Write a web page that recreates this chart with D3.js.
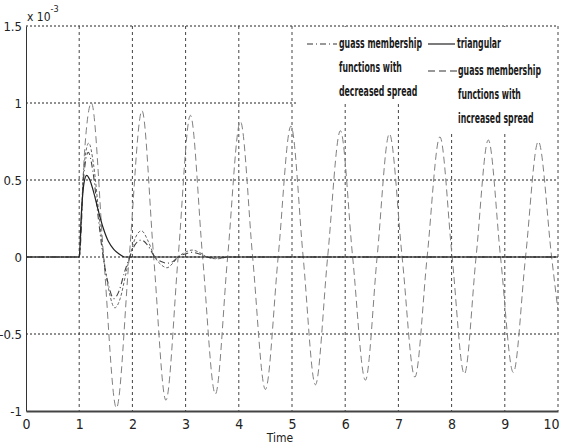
<!DOCTYPE html>
<html><head><meta charset="utf-8">
<script src="https://cdn.jsdelivr.net/npm/d3@7"></script>
<style>
html,body{margin:0;padding:0;background:#fff;}
svg{display:block;}
text{font-family:"DejaVu Sans",sans-serif;font-stretch:condensed;}
</style></head>
<body>
<svg id="chart" width="561" height="445"></svg>
<script>
// ---- data ----
const xTicks = [0,1,2,3,4,5,6,7,8,9,10];
const xTickLabels = ["0","1","2","3","4","5","6","7","8","9","10"];
const yTicks = [-1,-0.5,0,0.5,1,1.5];
const yTickLabels = ["-1","-0.5","0","0.5","1","1.5"];

// triangular (solid)
const triT = [0,1.0,1.04,1.09,1.14,1.2,1.28,1.36,1.45,1.55,1.65,1.75,1.85,10];
const triV = [0,0,0.28,0.48,0.53,0.5,0.41,0.3,0.19,0.1,0.05,0.02,0,0];

// gauss, decreased spread (dash-dot)
const decT = [0,1.0,1.08,1.17,1.26,1.36,1.45,1.55,1.65,1.75,1.85,1.95,2.05,2.17,2.3,2.42,2.54,2.65,2.76,2.86,2.99,3.12,3.26,3.4,3.6,3.8,10];
const decV = [0,0,0.5,0.68,0.55,0.25,0,-0.18,-0.27,-0.22,-0.1,0,0.08,0.11,0.07,0,-0.03,-0.04,-0.03,0,0.02,0.03,0.02,0,-0.008,0,0];

// unlabelled dotted companion curve
const dotT = [0,1.0,1.08,1.18,1.27,1.37,1.46,1.56,1.67,1.77,1.87,1.95,2.05,2.17,2.3,2.42,2.54,2.65,2.76,2.86,2.99,3.12,3.26,3.4,3.6,3.8,10];
const dotV = [0,0,0.55,0.74,0.6,0.28,0,-0.22,-0.33,-0.27,-0.12,0,0.12,0.17,0.1,0,-0.05,-0.07,-0.04,0,0.03,0.045,0.03,0,-0.012,0,0];

// gauss, increased spread (dashed)
const incT = [0,1.0,1.1,1.23,1.46,1.70,1.94,2.18,2.40,2.63,2.86,3.09,3.32,3.56,3.79,4.03,4.26,4.50,4.74,4.98,5.21,5.44,5.67,5.91,6.14,6.38,6.60,6.83,7.07,7.31,7.54,7.78,8.01,8.24,8.46,8.69,8.92,9.16,9.39,9.63,9.88,10];
const incV = [0,0,0.68,1.0,0,-0.98,0,0.95,0,-0.93,0,0.92,0,-0.89,0,0.88,0,-0.86,0,0.85,0,-0.83,0,0.82,0,-0.80,0,0.80,0,-0.78,0,0.78,0,-0.76,0,0.76,0,-0.75,0,0.75,0,-0.35];

// ---- chart ----
const svg = d3.select("#chart");
const x = d3.scaleLinear().domain([0,10]).range([26,558]);
const y = d3.scaleLinear().domain([-1,1.5]).range([411,26]);

// grid
svg.append("g").selectAll("line").data(yTicks.filter(d=>d>-1)).join("line")
  .attr("x1",x(0)).attr("x2",x(10)).attr("y1",d=>y(d)).attr("y2",d=>y(d))
  .attr("stroke","#222").attr("stroke-width",1).attr("stroke-dasharray","2,2");
svg.append("g").selectAll("line").data(xTicks.filter(d=>d>0)).join("line")
  .attr("x1",d=>x(d)).attr("x2",d=>x(d)).attr("y1",y(1.5)).attr("y2",y(-1))
  .attr("stroke","#444").attr("stroke-width",1).attr("stroke-dasharray","3,3");

const mk = (T,V)=>T.map((t,i)=>[t,V[i]]);
const line = d3.line().x(d=>x(d[0])).y(d=>y(d[1])).curve(d3.curveMonotoneX);

svg.append("path").datum(mk(incT,incV)).attr("d",line).attr("fill","none")
  .attr("stroke","#808080").attr("stroke-width",1).attr("stroke-dasharray","7,4");
svg.append("path").datum(mk(dotT,dotV)).attr("d",line).attr("fill","none")
  .attr("stroke","#666").attr("stroke-width",1).attr("stroke-dasharray","3,2");
svg.append("path").datum(mk(decT,decV)).attr("d",line).attr("fill","none")
  .attr("stroke","#444").attr("stroke-width",1.1).attr("stroke-dasharray","6,3,1,3");
svg.append("path").datum(mk(triT,triV)).attr("d",line).attr("fill","none")
  .attr("stroke","#222").attr("stroke-width",1.2);

// legend background
svg.append("rect").attr("x",298).attr("y",27).attr("width",258).attr("height",77).attr("fill","#fff");
svg.append("rect").attr("x",420).attr("y",104).attr("width",136).attr("height",27).attr("fill","#fff");

const lg = svg.append("g").attr("font-weight","bold").attr("font-size",14).attr("fill","#1a1a1a");
function txt(s,xx,yy){
  lg.append("text").attr("transform",`translate(${xx},${yy}) scale(0.62,1)`)
    .attr("dominant-baseline","central").text(s);
}
lg.append("line").attr("x1",307).attr("x2",337).attr("y1",44).attr("y2",44)
  .attr("stroke","#333").attr("stroke-width",1.2).attr("stroke-dasharray","6,3,1,3");
txt("guass membership",339,43);
txt("functions with",339,67);
txt("decreased spread",339,91);
lg.append("line").attr("x1",428).attr("x2",455).attr("y1",44).attr("y2",44)
  .attr("stroke","#222").attr("stroke-width",1.2);
txt("triangular",457,43);
lg.append("line").attr("x1",428).attr("x2",457).attr("y1",71).attr("y2",71)
  .attr("stroke","#333").attr("stroke-width",1.2).attr("stroke-dasharray","7,4");
txt("guass membership",458,70);
txt("functions with",458,94);
txt("increased spread",458,118);

// axes
const xAxis = d3.axisBottom(x).tickValues(xTicks).tickFormat((d,i)=>xTickLabels[i]).tickSize(0).tickPadding(8);
const gx = svg.append("g").attr("transform",`translate(0,${y(-1)})`).call(xAxis);
gx.select(".domain").attr("stroke","#444").attr("stroke-width",2);
gx.selectAll(".tick text").attr("font-size",14).attr("fill","#222");
gx.selectAll(".tick text").filter(d=>d===10).attr("dx",-7);

const yAxis = d3.axisLeft(y).tickValues(yTicks).tickFormat((d,i)=>yTickLabels[i]).tickSize(0).tickPadding(4);
const gy = svg.append("g").attr("transform",`translate(${x(0)},0)`).call(yAxis);
gy.select(".domain").attr("stroke","#333").attr("stroke-width",1);
gy.selectAll(".tick text").attr("font-size",13).attr("fill","#222");

svg.append("text").attr("x",280).attr("y",442).attr("text-anchor","middle")
  .attr("font-size",12).attr("fill","#222").text("Time");

const sc = svg.append("text").attr("x",27).attr("y",21)
  .attr("font-size",12).attr("fill","#222");
sc.append("tspan").text("x 10");
sc.append("tspan").attr("dy",-9).attr("font-size",9).text("-3");
</script>
</body></html>
